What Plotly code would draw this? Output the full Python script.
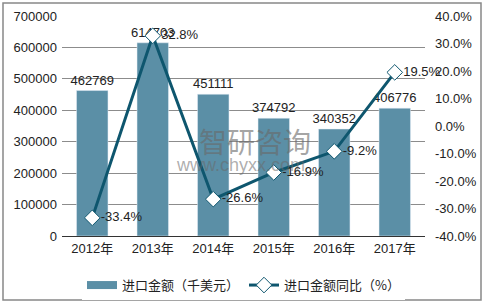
import plotly.graph_objects as go

years = ["2012年", "2013年", "2014年", "2015年", "2016年", "2017年"]
amounts = [462769, 614703, 451111, 374792, 340352, 406776]
growth = [-33.4, 32.8, -26.6, -16.9, -9.2, 19.5]
left_ticks = [0, 100000, 200000, 300000, 400000, 500000, 600000, 700000]
right_ticks = [-40, -30, -20, -10, 0, 10, 20, 30, 40]

FONT = "Liberation Sans, Noto Sans CJK SC, Arial, sans-serif"
BAR_C = "#5B8FA6"
LINE_C = "#0E566E"

fig = go.Figure()
fig.add_trace(go.Bar(
    x=years, y=amounts, name="进口金额（千美元）", showlegend=False,
    marker=dict(color=BAR_C), width=0.52,
    text=[str(v) for v in amounts], textposition="outside",
    constraintext="none",
    textfont=dict(size=13, color="#222222", family=FONT),
    cliponaxis=False,
))
# legend swatch for the bars (wide rectangle like the reference)
fig.add_trace(go.Scatter(
    x=[None], y=[None], name="进口金额（千美元）", mode="lines",
    line=dict(color=BAR_C, width=8),
))
fig.add_trace(go.Scatter(
    x=years, y=growth, name="进口金额同比（%）", yaxis="y2",
    mode="lines+markers+text",
    line=dict(color=LINE_C, width=3),
    marker=dict(symbol="diamond", size=12, color="white",
                line=dict(color=LINE_C, width=1)),
    text=[f"{v:.1f}%" for v in growth], textposition="middle right",
    textfont=dict(size=13, color="#222222", family=FONT),
    cliponaxis=False,
))

# watermark
fig.add_annotation(x=255, y=141, xref="paper", yref="paper", text="智研咨询",
                   xanchor="center", yanchor="middle",
                   showarrow=False, font=dict(size=28, color="rgba(105,105,105,0.6)",
                   family="Noto Sans CJK SC"))
fig.add_annotation(x=240, y=165, xref="paper", yref="paper", text="www.chyxx.com",
                   xanchor="center", yanchor="middle",
                   showarrow=False, font=dict(size=18, color="rgba(105,105,105,0.55)",
                   family=FONT))

# convert pixel positions for watermark annotations into paper coords
L, R, T, B = 62, 59, 16, 69
PW, PH = 484 - L - R, 305 - T - B
for a in fig.layout.annotations:
    a.x = (a.x - L) / PW
    a.y = 1 - (a.y - T) / PH

fig.update_layout(
    width=484, height=305,
    margin=dict(l=L, r=R, t=T, b=B, autoexpand=False),
    paper_bgcolor="white", plot_bgcolor="white",
    font=dict(family=FONT, size=12, color="#222222"),
    showlegend=True,
    legend=dict(orientation="h", x=0.5, xanchor="center", y=-0.155, yanchor="top",
                font=dict(size=13, color="#222222", family="Noto Sans CJK SC, sans-serif"),
                itemwidth=30, tracegroupgap=0),
    xaxis=dict(showgrid=False, showline=True, linecolor="#333333", linewidth=1,
               ticks="", tickfont=dict(size=13, color="#222222")),
    yaxis=dict(range=[0, 700000], tickvals=left_ticks,
               ticktext=[str(v) for v in left_ticks],
               showgrid=True, gridcolor="#8C8C8C", gridwidth=1,
               zeroline=False, showline=False, ticks="", ticklabelstandoff=4,
               tickfont=dict(size=13, color="#222222")),
    yaxis2=dict(range=[-40, 40], tickvals=right_ticks,
                ticktext=[f"{v:.1f}%" for v in right_ticks],
                overlaying="y", side="right", showgrid=False, zeroline=False,
                showline=False, ticks="", ticklabelstandoff=9,
                tickfont=dict(size=13, color="#222222")),
    shapes=[dict(type="rect", xref="paper", yref="paper",
                 x0=(3 - L) / PW, x1=(481 - L) / PW,
                 y0=1 - (300 - T) / PH, y1=1 - (3 - T) / PH,
                 line=dict(color="#888888", width=1.5))],
)

fig.write_html("out.html")
